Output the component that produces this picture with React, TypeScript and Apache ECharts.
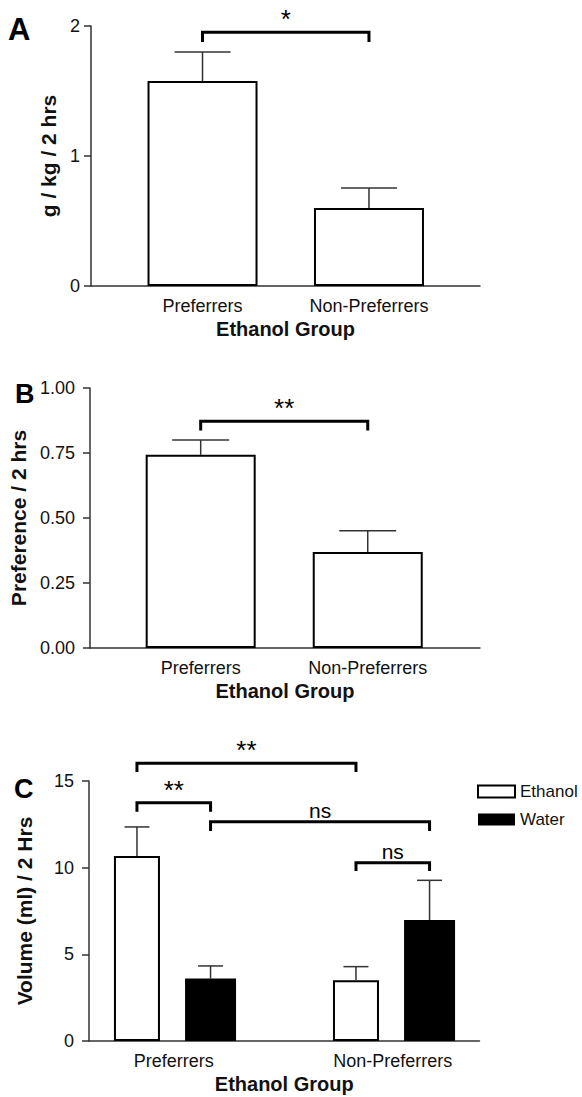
import React, { useEffect, useRef } from 'react';
import * as echarts from 'echarts';

// ---------- data ----------
const groups = ['Preferrers', 'Non-Preferrers'];
const groupPos = [1, 2];

// Panel A: g / kg / 2 hrs
const aMeans = [1.577, 0.6];
const aErrors = [0.223, 0.154];
// Panel B: preference / 2 hrs
const bMeans = [0.743, 0.369];
const bErrors = [0.057, 0.082];
// Panel C: volume (ml) / 2 Hrs
const cSeriesNames = ['Ethanol', 'Water'];
const cEthanolMeans = [10.67, 3.5];
const cEthanolErrors = [1.68, 0.79];
const cWaterMeans = [3.6, 6.98];
const cWaterErrors = [0.73, 2.29];

// significance brackets: [from x, to x, bar level, drop level], labels
const aBrackets = [[1, 2, 1.952, 1.877]];
const aBracketLabels = ['*'];
const bBrackets = [[1, 2, 0.872, 0.837]];
const bBracketLabels = ['**'];
const cOff = 0.168;
const cBrackets = [
  [1 - cOff, 2 - cOff, 16.02, 15.52],
  [1 - cOff, 1 + cOff, 13.75, 13.23],
  [1 + cOff, 2 + cOff, 12.65, 12.12],
  [2 - cOff, 2 + cOff, 10.29, 9.81],
];
const cBracketLabels = ['**', '**', 'ns', 'ns'];

const FONT = 'Liberation Sans, Arial, Helvetica, sans-serif';
const AXIS_COLOR = '#333';
const TEXT = '#111';

function labelFor(v: number) {
  const i = groupPos.indexOf(Math.round(v * 1000) / 1000);
  return i >= 0 ? groups[i] : '';
}

function xAxisFor(gridIndex: number, min: number, max: number, show = true) {
  return {
    gridIndex,
    type: 'value',
    min,
    max,
    show,
    axisLine: { show: true, onZero: false, lineStyle: { color: AXIS_COLOR, width: 1.5 } },
    axisTick: { show: false },
    splitLine: { show: false },
    axisLabel: {
      show: true,
      customValues: groupPos,
      formatter: (v: number) => labelFor(v),
      fontSize: 18,
      color: TEXT,
      fontFamily: FONT,
      margin: 11,
    },
    name: show ? 'Ethanol Group' : '',
    nameLocation: 'middle',
    nameGap: 33,
    nameTextStyle: { fontSize: 20, fontWeight: 'bold', color: TEXT, fontFamily: FONT },
  };
}

function yAxisFor(gridIndex: number, max: number, interval: number, name: string, nameGap: number, margin: number, fmt?: (v: number) => string) {
  return {
    gridIndex,
    type: 'value',
    min: 0,
    max,
    interval,
    axisLine: { show: true, onZero: false, lineStyle: { color: AXIS_COLOR, width: 1.5 } },
    axisTick: { show: true, length: 7, lineStyle: { color: AXIS_COLOR, width: 1.5 } },
    splitLine: { show: false },
    axisLabel: { fontSize: 18, color: TEXT, fontFamily: FONT, margin, formatter: fmt },
    name,
    nameLocation: 'middle',
    nameGap,
    nameTextStyle: { fontSize: 21, fontWeight: 'bold', color: TEXT, fontFamily: FONT },
  };
}

function errorSeries(xIdx: number, yIdx: number, xs: number[], means: number[], errs: number[], capW: number) {
  return {
    type: 'custom',
    xAxisIndex: xIdx,
    yAxisIndex: yIdx,
    z: 5,
    silent: true,
    encode: { x: 0, y: 1 },
    data: xs.map((x, i) => [x, means[i], errs[i]]),
    renderItem: (params: any, api: any) => {
      const x = api.value(0);
      const m = api.value(1);
      const e = api.value(2);
      const p0 = api.coord([x, m]);
      const p1 = api.coord([x, m + e]);
      const st = { stroke: '#333', lineWidth: 1.5 };
      return {
        type: 'group',
        children: [
          { type: 'line', shape: { x1: p0[0], y1: p0[1], x2: p1[0], y2: p1[1] }, style: st },
          { type: 'line', shape: { x1: p1[0] - capW / 2, y1: p1[1], x2: p1[0] + capW / 2, y2: p1[1] }, style: st },
        ],
      };
    },
  };
}

function bracketSeries(xIdx: number, yIdx: number, brackets: number[][], labels: string[]) {
  return {
    type: 'custom',
    xAxisIndex: xIdx,
    yAxisIndex: yIdx,
    z: 6,
    silent: true,
    clip: false,
    encode: { x: [0, 1], y: [2, 3] },
    data: brackets,
    renderItem: (params: any, api: any) => {
      const x1 = api.value(0);
      const x2 = api.value(1);
      const yl = api.value(2);
      const yd = api.value(3);
      const a = api.coord([x1, yd]);
      const b = api.coord([x1, yl]);
      const c = api.coord([x2, yl]);
      const d = api.coord([x2, yd]);
      const lab = labels[params.dataIndex];
      const isStar = lab.indexOf('*') >= 0;
      const tx = (b[0] + c[0]) / 2;
      const ty = isStar ? b[1] - 13 : b[1] - 11;
      return {
        type: 'group',
        children: [
          {
            type: 'polyline',
            shape: { points: [a, b, c, d] },
            style: { stroke: '#000', lineWidth: 3, fill: null, lineJoin: 'miter', lineCap: 'butt' },
          },
          {
            type: 'text',
            style: {
              text: lab,
              x: tx,
              y: ty,
              fill: '#000',
              align: 'center',
              textAlign: 'center',
              verticalAlign: 'middle',
              textVerticalAlign: 'middle',
              fontSize: isStar ? 26 : 21,
              fontFamily: FONT,
            },
          },
        ],
      };
    },
  };
}

export default function App() {
  const ref = useRef<HTMLDivElement>(null);
  useEffect(() => {
    if (!ref.current) return;
    const chart = echarts.init(ref.current, undefined, { renderer: 'svg' });
    const aMin = 0.33, aMax = 2.667;
    const bMin = 0.337, bMax = 2.672;
    const cMin = 0.613, cMax = 2.396;

    const option: any = {
      animation: false,
      backgroundColor: '#fff',
      textStyle: { fontFamily: FONT },
      grid: [
        { left: 91, top: 26, width: 389, height: 260 },
        { left: 89, top: 388, width: 391, height: 260 },
        { left: 89, top: 781, width: 390.5, height: 260 },
      ],
      xAxis: [
        xAxisFor(0, aMin, aMax),
        xAxisFor(1, bMin, bMax),
        xAxisFor(2, cMin, cMax),
        { ...xAxisFor(2, cMin, cMax, false) },
      ],
      yAxis: [
        yAxisFor(0, 2, 1, 'g / kg / 2 hrs', 30, 11),
        yAxisFor(1, 1, 0.25, 'Preference / 2 hrs', 53, 15, (v: number) => v.toFixed(2)),
        yAxisFor(2, 15, 5, 'Volume (ml) / 2 Hrs', 54, 15),
      ],
      legend: {
        data: cSeriesNames,
        orient: 'vertical',
        left: 472,
        top: 778,
        icon: 'rect',
        itemWidth: 37,
        itemHeight: 12,
        itemGap: 11,
        textStyle: { fontSize: 17, color: TEXT, fontFamily: FONT },
      },
      graphic: [
        { type: 'text', left: 8, top: 14, style: { text: 'A', fontSize: 31, fontWeight: 'bold', fill: '#000', fontFamily: FONT } },
        { type: 'text', left: 15, top: 380, style: { text: 'B', fontSize: 27, fontWeight: 'bold', fill: '#000', fontFamily: FONT } },
        { type: 'text', left: 14, top: 775, style: { text: 'C', fontSize: 27, fontWeight: 'bold', fill: '#000', fontFamily: FONT } },
      ],
      series: [
        {
          name: 'A',
          type: 'bar',
          xAxisIndex: 0,
          yAxisIndex: 0,
          barWidth: 110,
          data: groupPos.map((x, i) => [x, aMeans[i]]),
          itemStyle: { color: '#fff', borderColor: '#000', borderWidth: 2 },
        },
        errorSeries(0, 0, groupPos, aMeans, aErrors, 56),
        bracketSeries(0, 0, aBrackets, aBracketLabels),
        {
          name: 'B',
          type: 'bar',
          xAxisIndex: 1,
          yAxisIndex: 1,
          barWidth: 110,
          data: groupPos.map((x, i) => [x, bMeans[i]]),
          itemStyle: { color: '#fff', borderColor: '#000', borderWidth: 2 },
        },
        errorSeries(1, 1, groupPos, bMeans, bErrors, 57),
        bracketSeries(1, 1, bBrackets, bBracketLabels),
        {
          name: cSeriesNames[0],
          type: 'bar',
          xAxisIndex: 2,
          yAxisIndex: 2,
          barWidth: 46,
          data: groupPos.map((x, i) => [x - cOff, cEthanolMeans[i]]),
          itemStyle: { color: '#fff', borderColor: '#000', borderWidth: 2 },
        },
        {
          name: cSeriesNames[1],
          type: 'bar',
          xAxisIndex: 3,
          yAxisIndex: 2,
          barWidth: 51,
          data: groupPos.map((x, i) => [x + cOff, cWaterMeans[i]]),
          itemStyle: { color: '#000', borderColor: '#000', borderWidth: 0 },
        },
        errorSeries(2, 2, groupPos.map((x) => x - cOff), cEthanolMeans, cEthanolErrors, 25),
        errorSeries(2, 2, groupPos.map((x) => x + cOff), cWaterMeans, cWaterErrors, 25),
        bracketSeries(2, 2, cBrackets, cBracketLabels),
      ],
    };
    chart.setOption(option);
    return () => chart.dispose();
  }, []);
  return <div ref={ref} style={{ position: 'absolute', left: 0, top: 0, width: 582, height: 1097 }} />;
}
